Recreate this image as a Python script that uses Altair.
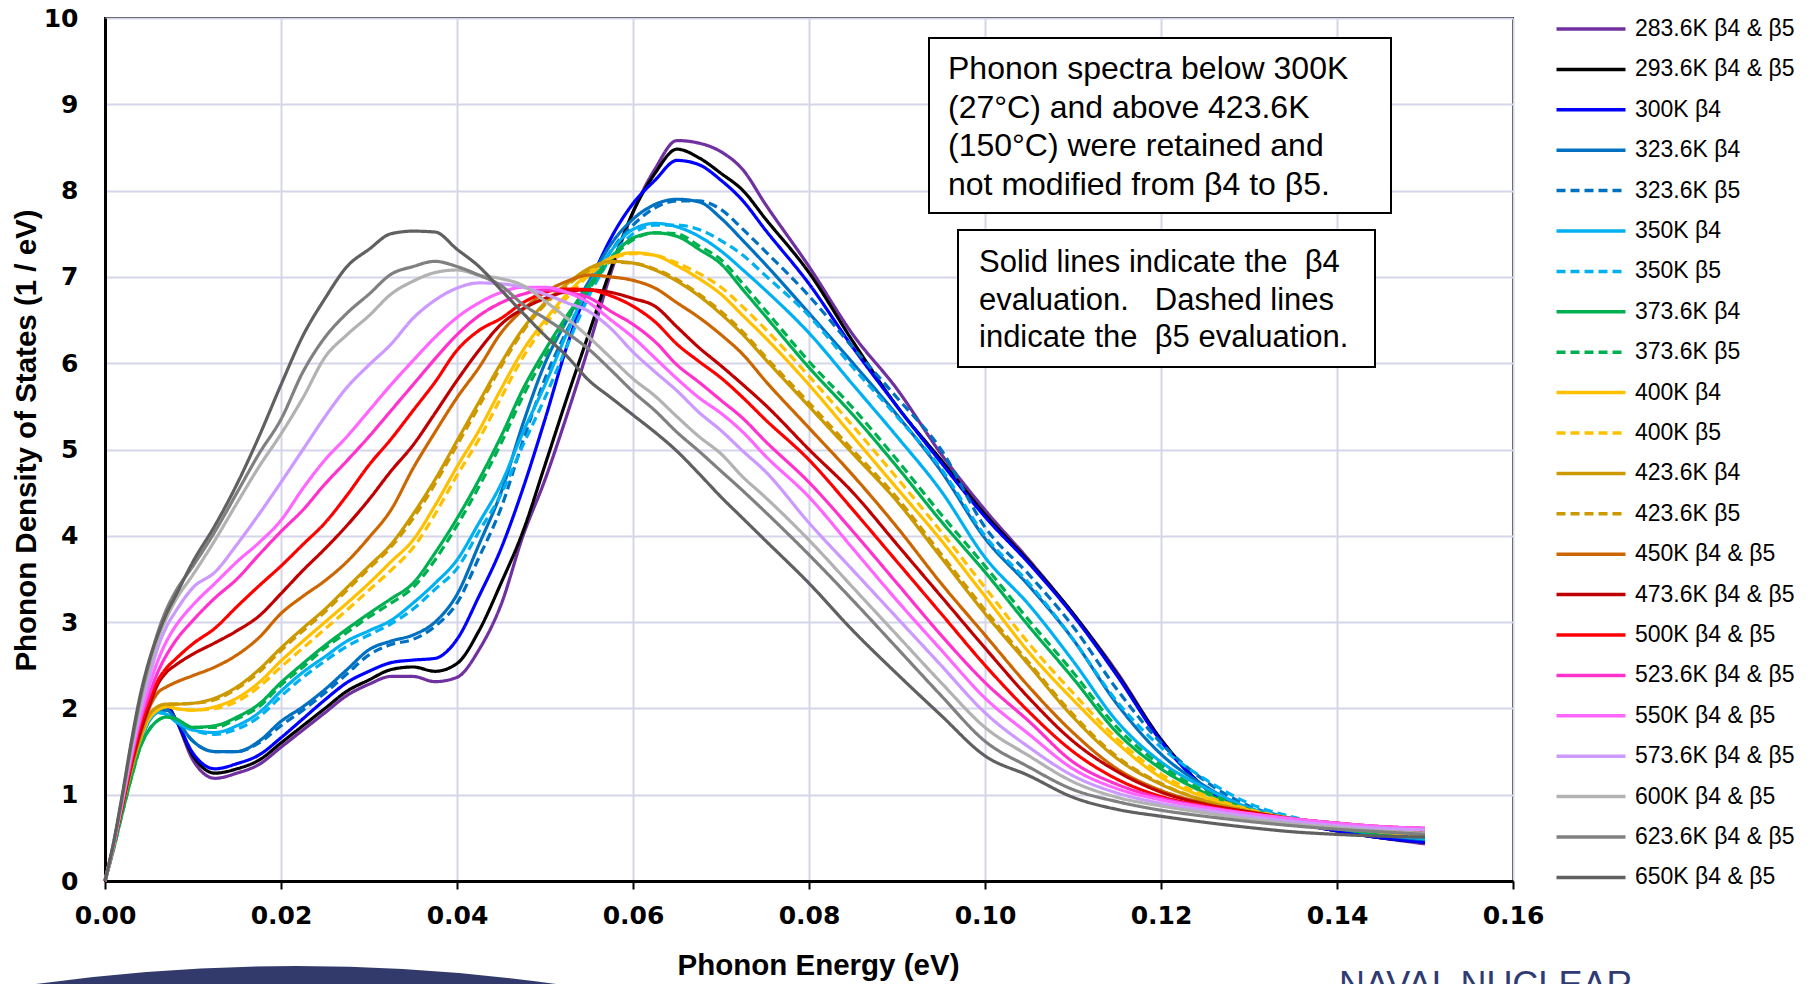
import altair as alt
import pandas as pd

# ---------------- data ----------------
X_EV = [0, 0.001, 0.002, 0.003, 0.004, 0.005, 0.006, 0.007, 0.008, 0.010,
        0.0125, 0.015, 0.0175, 0.020, 0.0225, 0.025, 0.0275, 0.030, 0.0325, 0.035,
        0.0375, 0.040, 0.0425, 0.045, 0.0475, 0.050, 0.0525, 0.055, 0.0575, 0.060,
        0.0625, 0.065, 0.0675, 0.070, 0.0725, 0.075,
        0.080, 0.085, 0.090, 0.095, 0.100, 0.105, 0.110, 0.115, 0.120, 0.125,
        0.130, 0.135, 0.140, 0.145, 0.150]

K283 = [0, 0.42, 0.88, 1.3, 1.62, 1.88, 2.0, 2.03, 1.88, 1.4,
        1.19, 1.25, 1.35, 1.55, 1.75, 1.95, 2.15, 2.28, 2.37, 2.37,
        2.31, 2.36, 2.68, 3.2, 4.0, 4.65, 5.4, 6.2, 7.05, 7.75,
        8.25, 8.58, 8.55, 8.45, 8.24, 7.85,
        7.12, 6.33, 5.7, 4.95, 4.3, 3.72, 3.1, 2.42, 1.64, 1.08, 0.8, 0.68, 0.58, 0.5, 0.43]
K293 = [0, 0.42, 0.88, 1.3, 1.62, 1.88, 2.0, 2.03, 1.88, 1.45,
        1.25, 1.3, 1.4, 1.6, 1.8, 2.0, 2.2, 2.33, 2.45, 2.48,
        2.43, 2.52, 2.9, 3.45, 4.05, 4.82, 5.6, 6.35, 7.1, 7.75,
        8.2, 8.48, 8.38, 8.2, 8.0, 7.68,
        7.05, 6.25, 5.5, 4.88, 4.25, 3.7, 3.1, 2.4, 1.64, 1.08, 0.8, 0.68, 0.58, 0.5, 0.45]
K300 = [0, 0.42, 0.88, 1.3, 1.62, 1.88, 2.0, 2.02, 1.88, 1.48,
        1.3, 1.36, 1.46, 1.66, 1.88, 2.1, 2.3, 2.43, 2.53, 2.56,
        2.58, 2.8, 3.3, 3.85, 4.55, 5.35, 6.2, 6.9, 7.45, 7.85,
        8.12, 8.35, 8.3, 8.12, 7.88, 7.55,
        6.92, 6.18, 5.5, 4.85, 4.22, 3.68, 3.08, 2.38, 1.62, 1.08, 0.8, 0.68, 0.58, 0.5, 0.45]
K323_B4 = [0, 0.42, 0.88, 1.3, 1.62, 1.86, 1.98, 1.98, 1.88, 1.62,
           1.5, 1.5, 1.62, 1.85, 2.02, 2.22, 2.45, 2.68, 2.78, 2.85,
           3.0, 3.32, 3.9, 4.5, 5.3, 6.0, 6.5, 6.95, 7.38, 7.67,
           7.84, 7.9, 7.87, 7.68, 7.42, 7.15,
           6.58, 6.0, 5.4, 4.75, 3.97, 3.42, 2.8, 2.05, 1.47, 1.1, 0.84, 0.71, 0.61, 0.53, 0.48]
K323_B5 = [0, 0.42, 0.88, 1.3, 1.62, 1.86, 1.98, 1.98, 1.88, 1.62,
           1.5, 1.5, 1.6, 1.8, 1.98, 2.18, 2.4, 2.62, 2.74, 2.8,
           2.95, 3.22, 3.75, 4.32, 5.1, 5.82, 6.38, 6.85, 7.3, 7.6,
           7.8, 7.88, 7.88, 7.78, 7.55, 7.3,
           6.78, 6.18, 5.6, 5.0, 4.1, 3.55, 2.95, 2.22, 1.6, 1.16, 0.87, 0.72, 0.62, 0.54, 0.48]
K350_B4 = [0, 0.42, 0.88, 1.3, 1.62, 1.85, 1.95, 1.93, 1.85, 1.75,
           1.72, 1.8, 1.95, 2.2, 2.42, 2.6, 2.78, 2.9, 3.02, 3.22,
           3.45, 3.72, 4.15, 4.6, 5.2, 5.75, 6.35, 6.9, 7.3, 7.55,
           7.62, 7.58, 7.47, 7.3, 7.08, 6.85,
           6.35, 5.75, 5.15, 4.52, 3.75, 3.2, 2.55, 1.85, 1.38, 1.08, 0.85, 0.72, 0.62, 0.54, 0.49]
K350_B5 = [0, 0.42, 0.88, 1.3, 1.62, 1.85, 1.95, 1.93, 1.85, 1.75,
           1.7, 1.76, 1.9, 2.14, 2.36, 2.55, 2.72, 2.85, 2.98, 3.15,
           3.38, 3.62, 4.05, 4.48, 5.05, 5.6, 6.2, 6.78, 7.22, 7.5,
           7.6, 7.6, 7.55, 7.42, 7.25, 7.02,
           6.55, 5.95, 5.38, 4.78, 4.0, 3.45, 2.8, 2.08, 1.55, 1.18, 0.9, 0.74, 0.63, 0.55, 0.49]
K373_B4 = [0, 0.38, 0.8, 1.2, 1.55, 1.75, 1.86, 1.9, 1.88, 1.78,
           1.8, 1.9, 2.05, 2.3, 2.52, 2.73, 2.92, 3.1, 3.27, 3.45,
           3.8, 4.2, 4.65, 5.15, 5.7, 6.15, 6.55, 6.9, 7.22, 7.45,
           7.51, 7.47, 7.32, 7.15, 6.85, 6.55,
           5.95, 5.4, 4.8, 4.17, 3.58, 2.95, 2.35, 1.72, 1.3, 1.02, 0.82, 0.7, 0.61, 0.55, 0.51]
K373_B5 = [0, 0.38, 0.8, 1.2, 1.55, 1.75, 1.86, 1.9, 1.88, 1.78,
           1.78, 1.88, 2.02, 2.27, 2.48, 2.7, 2.88, 3.06, 3.22, 3.4,
           3.72, 4.12, 4.57, 5.07, 5.62, 6.08, 6.5, 6.86, 7.2, 7.43,
           7.51, 7.5, 7.36, 7.2, 6.92, 6.62,
           6.02, 5.48, 4.88, 4.25, 3.65, 3.02, 2.42, 1.78, 1.34, 1.04, 0.83, 0.71, 0.61, 0.55, 0.51]
K400_B4 = [0, 0.42, 0.88, 1.3, 1.64, 1.88, 1.98, 2.02, 2.0, 1.98,
           2.02, 2.12, 2.3, 2.55, 2.78, 3.0, 3.22, 3.45, 3.7, 3.95,
           4.35, 4.8, 5.22, 5.7, 6.15, 6.5, 6.8, 7.05, 7.22, 7.28,
           7.25, 7.13, 6.98, 6.8, 6.55, 6.3,
           5.75, 5.15, 4.55, 3.95, 3.3, 2.65, 2.1, 1.6, 1.2, 0.97, 0.82, 0.71, 0.63, 0.57, 0.53]
K400_B5 = [0, 0.42, 0.88, 1.3, 1.64, 1.88, 1.98, 2.02, 2.0, 1.98,
           2.0, 2.08, 2.25, 2.48, 2.7, 2.92, 3.14, 3.37, 3.6, 3.86,
           4.25, 4.7, 5.12, 5.6, 6.07, 6.44, 6.76, 7.02, 7.2, 7.27,
           7.25, 7.16, 7.04, 6.88, 6.65, 6.4,
           5.85, 5.27, 4.67, 4.05, 3.4, 2.75, 2.18, 1.65, 1.24, 0.99, 0.83, 0.72, 0.63, 0.57, 0.53]
K423_B4 = [0, 0.42, 0.88, 1.3, 1.66, 1.92, 2.02, 2.05, 2.05, 2.06,
           2.12, 2.25, 2.45, 2.7, 2.93, 3.15, 3.4, 3.65, 3.9, 4.25,
           4.65, 5.1, 5.55, 6.0, 6.4, 6.7, 6.92, 7.1, 7.18, 7.16,
           7.08, 6.95, 6.78, 6.57, 6.33, 6.05,
           5.5, 4.95, 4.4, 3.75, 3.1, 2.5, 1.9, 1.42, 1.12, 0.93, 0.81, 0.72, 0.65, 0.59, 0.55]
K423_B5 = [0, 0.42, 0.88, 1.3, 1.66, 1.92, 2.02, 2.05, 2.05, 2.06,
           2.1, 2.23, 2.42, 2.67, 2.9, 3.12, 3.37, 3.62, 3.87, 4.2,
           4.6, 5.05, 5.5, 5.96, 6.37, 6.68, 6.9, 7.08, 7.17, 7.16,
           7.09, 6.97, 6.8, 6.6, 6.36, 6.08,
           5.54, 4.99, 4.44, 3.79, 3.14, 2.53, 1.93, 1.44, 1.13, 0.93, 0.81, 0.72, 0.65, 0.59, 0.55]
K450 = [0, 0.42, 0.88, 1.32, 1.7, 2.0, 2.18, 2.25, 2.3, 2.38,
        2.48, 2.62, 2.82, 3.1, 3.3, 3.48, 3.7, 3.98, 4.3, 4.78,
        5.2, 5.6, 5.95, 6.35, 6.62, 6.82, 6.95, 7.02, 7.0, 6.96,
        6.87, 6.7, 6.53, 6.33, 6.1, 5.8,
        5.25, 4.7, 4.1, 3.45, 2.85, 2.25, 1.72, 1.3, 1.05, 0.9, 0.8, 0.72, 0.66, 0.61, 0.57]
K473 = [0, 0.42, 0.88, 1.35, 1.72, 2.02, 2.28, 2.42, 2.5, 2.63,
        2.76, 2.9, 3.07, 3.33, 3.6, 3.85, 4.12, 4.42, 4.75, 5.05,
        5.42, 5.8, 6.15, 6.45, 6.63, 6.75, 6.83, 6.85, 6.82, 6.75,
        6.66, 6.42, 6.18, 5.97, 5.75, 5.52,
        5.0, 4.5, 3.9, 3.3, 2.7, 2.12, 1.62, 1.27, 1.03, 0.89, 0.8, 0.72, 0.67, 0.62, 0.59]
K500 = [0, 0.42, 0.9, 1.38, 1.78, 2.08, 2.32, 2.47, 2.57, 2.75,
        2.93, 3.18, 3.42, 3.65, 3.9, 4.15, 4.47, 4.82, 5.12, 5.45,
        5.78, 6.15, 6.38, 6.52, 6.7, 6.82, 6.86, 6.85, 6.78, 6.66,
        6.48, 6.22, 6.02, 5.83, 5.6, 5.35,
        4.88, 4.3, 3.7, 3.1, 2.5, 1.96, 1.5, 1.18, 0.98, 0.87, 0.79, 0.72, 0.67, 0.63, 0.61]
K523 = [0, 0.43, 0.92, 1.42, 1.85, 2.15, 2.42, 2.62, 2.78, 3.02,
        3.28, 3.5, 3.78, 4.05, 4.3, 4.6, 4.87, 5.15, 5.45, 5.75,
        6.05, 6.33, 6.55, 6.7, 6.8, 6.85, 6.82, 6.76, 6.6, 6.45,
        6.25, 5.98, 5.78, 5.57, 5.36, 5.1,
        4.62, 4.05, 3.45, 2.85, 2.3, 1.85, 1.38, 1.12, 0.96, 0.86, 0.78, 0.72, 0.67, 0.63, 0.61]
K550 = [0, 0.43, 0.94, 1.46, 1.9, 2.25, 2.55, 2.78, 2.95, 3.2,
        3.45, 3.7, 3.92, 4.18, 4.55, 4.88, 5.15, 5.45, 5.75, 6.03,
        6.3, 6.53, 6.7, 6.82, 6.88, 6.88, 6.82, 6.7, 6.5, 6.3,
        6.06, 5.82, 5.6, 5.42, 5.2, 4.93,
        4.45, 3.85, 3.25, 2.68, 2.12, 1.7, 1.3, 1.07, 0.94, 0.85, 0.78, 0.72, 0.67, 0.63, 0.61]
K573 = [0, 0.43, 0.96, 1.5, 1.97, 2.35, 2.7, 2.95, 3.12, 3.4,
        3.58, 3.9, 4.25, 4.62, 5.0, 5.38, 5.72, 5.98, 6.22, 6.52,
        6.73, 6.87, 6.93, 6.92, 6.88, 6.8, 6.7, 6.6, 6.4, 6.13,
        5.9, 5.68, 5.43, 5.22, 4.98, 4.75,
        4.15, 3.6, 3.05, 2.5, 1.95, 1.55, 1.22, 1.02, 0.9, 0.82, 0.75, 0.69, 0.64, 0.61, 0.59]
K600 = [0, 0.44, 0.98, 1.55, 2.05, 2.45, 2.8, 3.05, 3.25, 3.55,
        3.95, 4.38, 4.8, 5.18, 5.6, 6.07, 6.33, 6.55, 6.8, 6.95,
        7.05, 7.08, 7.02, 6.98, 6.9, 6.72, 6.52, 6.3, 6.06, 5.82,
        5.62, 5.38, 5.15, 4.95, 4.68, 4.45,
        3.95, 3.4, 2.85, 2.3, 1.78, 1.45, 1.15, 0.97, 0.87, 0.79, 0.72, 0.66, 0.62, 0.58, 0.55]
K623 = [0, 0.45, 1.0, 1.58, 2.1, 2.52, 2.88, 3.15, 3.35, 3.65,
        4.05, 4.5, 4.95, 5.35, 5.9, 6.3, 6.58, 6.8, 7.03, 7.12,
        7.18, 7.12, 7.02, 6.9, 6.68, 6.52, 6.35, 6.16, 5.92, 5.67,
        5.45, 5.2, 4.98, 4.75, 4.52, 4.28,
        3.78, 3.25, 2.7, 2.15, 1.62, 1.32, 1.06, 0.92, 0.82, 0.75, 0.69, 0.64, 0.6, 0.57, 0.54]
K650 = [0, 0.46, 1.02, 1.62, 2.15, 2.55, 2.85, 3.1, 3.3, 3.7,
        4.12, 4.6, 5.15, 5.75, 6.32, 6.75, 7.12, 7.32, 7.5, 7.53,
        7.52, 7.32, 7.12, 6.85, 6.58, 6.32, 6.08, 5.8, 5.6, 5.4,
        5.2, 4.98, 4.72, 4.45, 4.2, 3.95,
        3.45, 2.9, 2.4, 1.92, 1.45, 1.22, 0.97, 0.83, 0.75, 0.68, 0.62, 0.57, 0.54, 0.52, 0.51]

SERIES_LABELS = ["283.6K β4 & β5", "293.6K β4 & β5", "300K β4", "323.6K β4", "323.6K β5",
                 "350K β4", "350K β5", "373.6K β4", "373.6K β5", "400K β4", "400K β5",
                 "423.6K β4", "423.6K β5", "450K β4 & β5", "473.6K β4 & β5", "500K β4 & β5",
                 "523.6K β4 & β5", "550K β4 & β5", "573.6K β4 & β5", "600K β4 & β5",
                 "623.6K β4 & β5", "650K β4 & β5"]
SERIES_VALUES = [K283, K293, K300, K323_B4, K323_B5, K350_B4, K350_B5, K373_B4, K373_B5,
                 K400_B4, K400_B5, K423_B4, K423_B5, K450, K473, K500, K523, K550, K573,
                 K600, K623, K650]
SERIES_COLORS = ["#7030A0", "#000000", "#0000FF", "#0070C0", "#0070C0", "#00B0F0", "#00B0F0",
                 "#00B050", "#00B050", "#FFC000", "#FFC000", "#CC9900", "#CC9900", "#CC6600",
                 "#C00000", "#FF0000", "#FF33CC", "#FF66FF", "#CC99FF", "#B2B2B2", "#808080",
                 "#606060"]
SERIES_DASHED = [False, False, False, False, True, False, True, False, True, False, True,
                 False, True, False, False, False, False, False, False, False, False, False]

X_TICKS = [0, 0.02, 0.04, 0.06, 0.08, 0.10, 0.12, 0.14, 0.16]
Y_TICKS = [0, 1, 2, 3, 4, 5, 6, 7, 8, 9, 10]

NB = "\u00a0"
NOTE_1 = ["Phonon spectra below 300K", "(27°C) and above 423.6K",
          "(150°C) were retained and", "not modified from β4 to β5."]
NOTE_2 = ["Solid lines indicate the" + NB + " β4", "evaluation." + NB + NB + " Dashed lines",
          "indicate the" + NB + " β5 evaluation."]

rows = []
for lab, vals in zip(SERIES_LABELS, SERIES_VALUES):
    for x, y in zip(X_EV, vals):
        rows.append({"x": x, "y": y, "series": lab})
df = pd.DataFrame(rows)

DASHES = [[9, 5] if d else [1, 0] for d in SERIES_DASHED]

W, H = 1408, 863
PAD = {"left": 105, "top": 18, "right": 1818 - 105 - W, "bottom": 984 - 18 - H}

leg = dict(title=None, orient="none", legendX=1467, legendY=-8, padding=0,
           symbolType="M-2,0H2", symbolSize=1190, symbolStrokeWidth=3.5,
           labelFont="Liberation Sans", labelFontSize=23, labelColor="black",
           labelOffset=25, rowPadding=9.4, labelLimit=400)

lines = alt.Chart(df).mark_line(strokeWidth=3.2, interpolate="monotone").encode(
    x=alt.X("x:Q", scale=alt.Scale(domain=[0, 0.16], nice=False),
            axis=alt.Axis(values=X_TICKS, format=".2f", title="Phonon Energy (eV)",
                          labelFont="DejaVu Sans", labelFontWeight="bold", labelFontSize=25,
                          labelColor="black", labelFlush=False, tickSize=8, tickWidth=2,
                          tickColor="black", labelPadding=14, domainColor="black",
                          domainWidth=3, gridColor="#D6D6EA", gridWidth=2,
                          titleFont="Liberation Sans", titleFontSize=29.5,
                          titleFontWeight="bold", titleColor="black", titlePadding=23,
                          titleX=713)),
    y=alt.Y("y:Q", scale=alt.Scale(domain=[0, 10], nice=False),
            axis=alt.Axis(values=Y_TICKS, format="d", title="Phonon Density of States (1 / eV)",
                          labelFont="DejaVu Sans", labelFontWeight="bold", labelFontSize=25,
                          labelColor="black", labelFlush=False, ticks=False, labelPadding=27,
                          domainColor="black", domainWidth=3,
                          gridColor="#D6D6EA", gridWidth=2,
                          titleFont="Liberation Sans", titleFontSize=29.5,
                          titleFontWeight="bold", titleColor="black", titlePadding=2,
                          titleY=422)),
    color=alt.Color("series:N", scale=alt.Scale(domain=SERIES_LABELS, range=SERIES_COLORS),
                    legend=alt.Legend(**leg)),
    strokeDash=alt.StrokeDash("series:N", scale=alt.Scale(domain=SERIES_LABELS, range=DASHES),
                              legend=alt.Legend(**leg)),
)

one = pd.DataFrame({"k": [0]})

box1 = alt.Chart(one).mark_rect(fill="white", stroke="black", strokeWidth=2).encode(
    x=alt.value(824), x2=alt.value(1286), y=alt.value(20), y2=alt.value(195))
text1 = alt.Chart(one).mark_text(align="left", baseline="alphabetic", font="Liberation Sans",
                                 fontSize=32, lineHeight=38.5, color="black").encode(
    x=alt.value(843), y=alt.value(61), text=alt.value(NOTE_1))
box2 = alt.Chart(one).mark_rect(fill="white", stroke="black", strokeWidth=2).encode(
    x=alt.value(853), x2=alt.value(1270), y=alt.value(212), y2=alt.value(349))
text2 = alt.Chart(one).mark_text(align="left", baseline="alphabetic", font="Liberation Sans",
                                 fontSize=31, lineHeight=37.5, color="black").encode(
    x=alt.value(874), y=alt.value(254), text=alt.value(NOTE_2))

dome = alt.Chart(one).mark_arc(radius=1887, radius2=1820, theta=6.083, theta2=6.483,
                               color="#323A6B").encode(
    x=alt.value(191), y=alt.value(2835))
naval = alt.Chart(one).mark_text(align="left", baseline="alphabetic", font="Liberation Sans",
                                 fontSize=36, color="#2F3B73", text="NAVAL NUCLEAR").encode(
    x=alt.value(1234), y=alt.value(979))

chart = alt.layer(lines, box1, text1, box2, text2, dome, naval).properties(
    width=W, height=H, padding=PAD, autosize=alt.AutoSizeParams(type="none"),
    background="white"
).configure_view(stroke="black", strokeWidth=2)

chart.save("out.html", embed_options={"renderer": "svg", "actions": False})
